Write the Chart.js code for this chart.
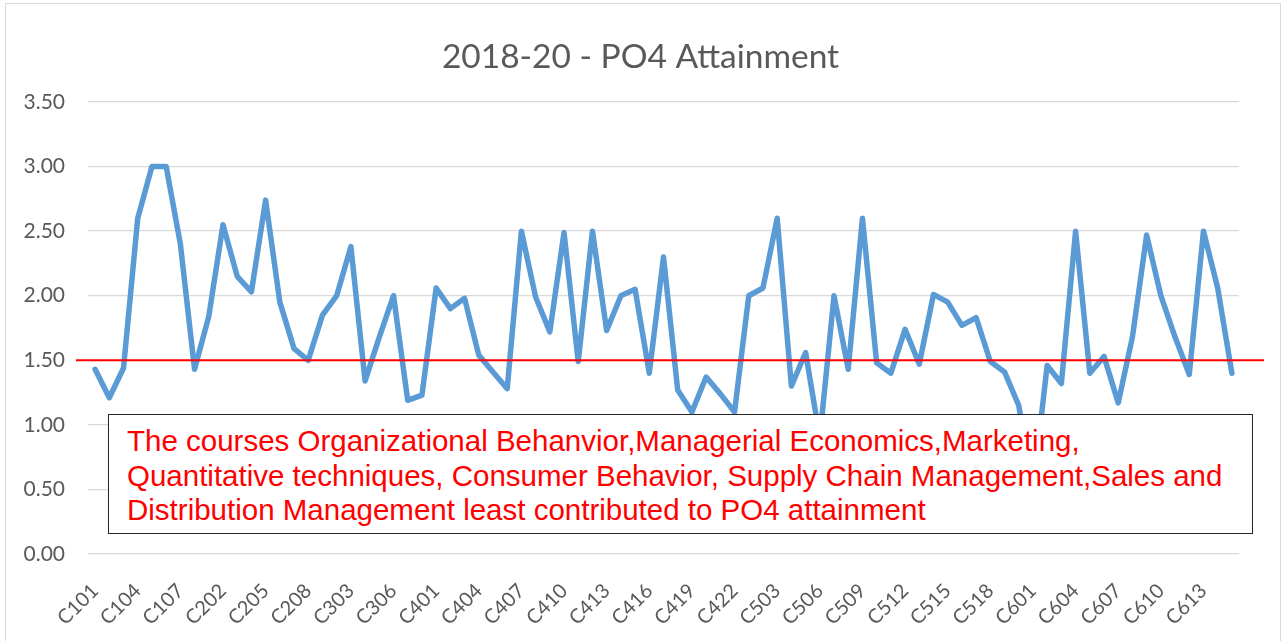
<!DOCTYPE html>
<html>
<head>
<meta charset="utf-8">
<title>2018-20 - PO4 Attainment</title>
<script src="https://cdn.jsdelivr.net/npm/chart.js@4.4.0/dist/chart.umd.min.js"></script>
<style>
  html, body { margin: 0; padding: 0; background: #fff; overflow: hidden; }
  #wrap { position: relative; width: 1281px; height: 641px; }
  #note {
    position: absolute; left: 108px; top: 414px; width: 1145px; height: 120px;
    box-sizing: border-box; border: 1px solid #262626; background: #fff;
    color: #ff0000; font: 29.5px "Liberation Sans", Arial, sans-serif; line-height: 34.5px;
    padding: 9px 0 0 18px; white-space: nowrap;
  }
</style>
</head>
<body>
<div id="wrap">
  <canvas id="po4" width="1281" height="641"></canvas>
  <div id="note"></div>
</div>
<script>
// course codes, one per point
const courses100 = ['C101','C102','C103','C104','C105','C106','C107','C108'];
const courses200 = ['C201','C202','C203','C204','C205','C206','C207','C208'];
const courses300 = ['C301','C302','C303','C304','C305','C306','C307','C308'];
const courses400 = ['C401','C402','C403','C404','C405','C406','C407','C408','C409','C410','C411',
                    'C412','C413','C414','C415','C416','C417','C418','C419','C420','C421','C422'];
const courses500 = ['C501','C502','C503','C504','C505','C506','C507','C508','C509','C510',
                    'C511','C512','C513','C514','C515','C516','C517','C518','C519','C520'];
const courses600 = ['C601','C602','C603','C604','C605','C606','C607','C608','C609','C610',
                    'C611','C612','C613','C614','C615'];

// PO4 attainment
const po4_100 = [1.43, 1.21, 1.44, 2.60, 3.00, 3.00, 2.40, 1.43];
const po4_200 = [1.84, 2.55, 2.15, 2.03, 2.74, 1.95, 1.59, 1.50];
const po4_300 = [1.85, 2.00, 2.38, 1.34, 1.68, 2.00, 1.19, 1.23];
const po4_400 = [2.06, 1.90, 1.98, 1.54, 1.41, 1.28, 2.50, 1.99, 1.72, 2.49, 1.49,
                 2.50, 1.73, 2.00, 2.05, 1.40, 2.30, 1.27, 1.10, 1.37, 1.24, 1.10];
const po4_500 = [2.00, 2.06, 2.60, 1.30, 1.56, 0.90, 2.00, 1.43, 2.60, 1.48,
                 1.40, 1.74, 1.47, 2.01, 1.95, 1.77, 1.83, 1.49, 1.41, 1.15];
const po4_600 = [0.50, 1.46, 1.32, 2.50, 1.40, 1.53, 1.17, 1.68, 2.47, 2.00,
                 1.68, 1.39, 2.50, 2.06, 1.40];

const yTicks = [0, 0.5, 1, 1.5, 2, 2.5, 3, 3.5];
const targetValue = 1.5;
const chartTitle = '2018-20 - PO4 Attainment';
const noteLines = [
  'The courses Organizational Behanvior,Managerial Economics,Marketing,',
  'Quantitative techniques, Consumer Behavior, Supply Chain Management,Sales and',
  'Distribution Management least contributed to PO4 attainment'
];

const labels = [].concat(courses100, courses200, courses300, courses400, courses500, courses600);
const values = [].concat(po4_100, po4_200, po4_300, po4_400, po4_500, po4_600);

document.getElementById('note').innerHTML = noteLines.join('<br>');

const gray = '#595959';

// white background, outer frame, title centred on the page, red 1.50 target line
const extras = {
  id: 'extras',
  beforeDraw(chart) {
    const c = chart.ctx;
    c.save();
    c.fillStyle = '#fff';
    c.fillRect(0, 0, chart.width, chart.height);
    c.strokeStyle = '#d9d9d9';
    c.lineWidth = 1;
    c.strokeRect(5.5, 3.5, chart.width - 6, chart.height);
    c.fillStyle = gray;
    c.font = '33.5px Lato';
    c.textAlign = 'center';
    c.textBaseline = 'middle';
    c.fillText(chartTitle, chart.width / 2, 57);
    c.restore();
  },
  afterDatasetsDraw(chart) {
    const c = chart.ctx;
    const a = chart.chartArea;
    const y = chart.scales.y.getPixelForValue(targetValue);
    c.save();
    c.strokeStyle = '#ff0000';
    c.lineWidth = 2;
    c.beginPath();
    c.moveTo(a.left - 12, y);
    c.lineTo(a.right + 25, y);
    c.stroke();
    c.restore();
  }
};

new Chart(document.getElementById('po4'), {
  type: 'line',
  data: {
    labels: labels,
    datasets: [{
      label: 'PO4',
      data: values,
      borderColor: '#5b9bd5',
      borderWidth: 5.5,
      pointRadius: 0,
      tension: 0,
      borderJoinStyle: 'round',
      borderCapStyle: 'round'
    }]
  },
  options: {
    responsive: false,
    animation: false,
    layout: { padding: { left: 0, right: 42, top: 102, bottom: 0 } },
    plugins: {
      legend: { display: false },
      tooltip: { enabled: false },
      title: { display: false }
    },
    scales: {
      x: {
        offset: true,
        grid: { display: false },
        border: { display: false },
        afterFit(scale) { scale.height = 87; },
        ticks: {
          autoSkip: false,
          maxRotation: 45,
          minRotation: 45,
          padding: 17,
          color: gray,
          font: { family: 'Lato', size: 20 },
          callback(v, i) { return i % 3 === 0 ? labels[i] : ''; }
        }
      },
      y: {
        min: 0,
        max: 3.5,
        afterBuildTicks(scale) { scale.ticks = yTicks.map(v => ({ value: v })); },
        afterFit(scale) { scale.width = 88; },
        grid: { color: '#d9d9d9', lineWidth: 1.3, drawTicks: false },
        border: { display: false },
        ticks: {
          padding: 23,
          color: gray,
          font: { family: 'Lato', size: 21 },
          callback(v) { return v.toFixed(2); }
        }
      }
    }
  },
  plugins: [extras]
});
</script>
</body>
</html>
